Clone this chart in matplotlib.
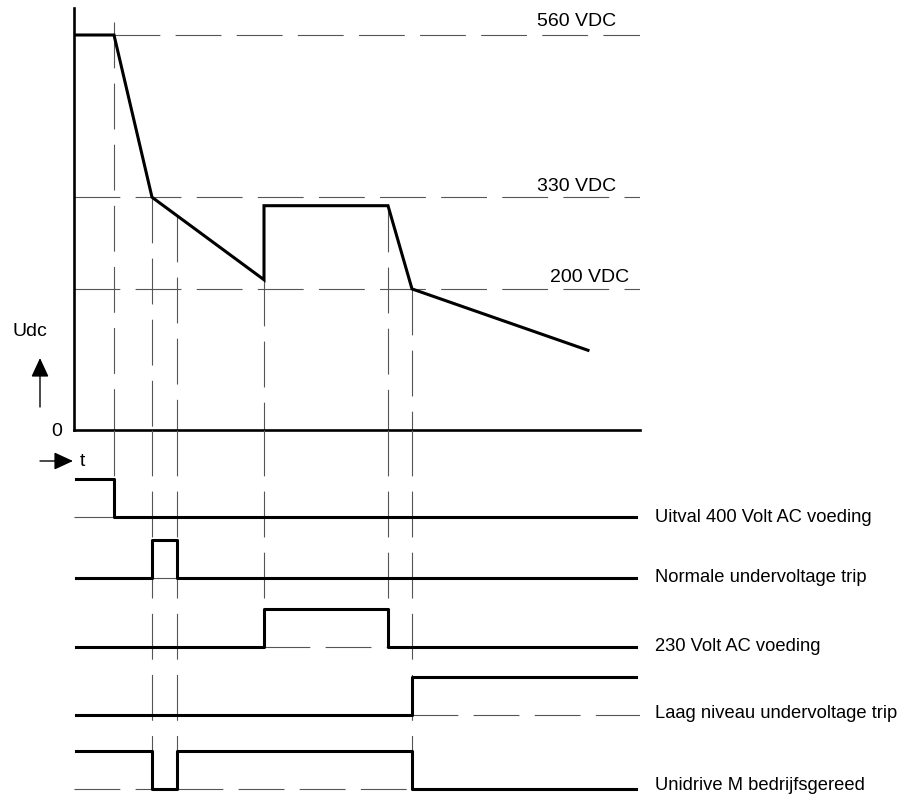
"""
Timing diagram: DC bus voltage (Udc) and control signals during a mains failure
"""
import numpy as np
import matplotlib
matplotlib.use("Agg")
import matplotlib.pyplot as plt

plt.rcParams['font.family'] = ['Liberation Sans', 'DejaVu Sans']
plt.rcParams['lines.scale_dashes'] = False

# Udc curve (time in arbitrary units, voltage in VDC)
t_udc = [0, 40, 78, 190, 190, 314, 338, 514]
u_udc = [560, 560, 330, 213, 318, 318, 200, 113]

ref_levels = [560, 330, 200]
ref_labels = ['560 VDC', '330 VDC', '200 VDC']
ref_start = [40, 0, 0]

# event times where the dashed guides are drawn
guide_times = [40, 78, 103, 190, 314, 338]

# logic signals (state held from each time to the next)
signal_names = [
    'Uitval 400 Volt AC voeding',
    'Normale undervoltage trip',
    '230 Volt AC voeding',
    'Laag niveau undervoltage trip',
    'Unidrive M bedrijfsgereed',
]
signal_times = [
    [2, 40, 562],
    [2, 78, 103, 562],
    [2, 190, 314, 562],
    [2, 338, 562],
    [2, 78, 103, 338, 562],
]
signal_states = [
    [1, 0],
    [0, 1, 0],
    [0, 1, 0],
    [0, 1],
    [1, 0, 1, 0],
]

# layout (pixels in the 900x794 picture)
W, H = 900, 794
x0, x1 = 74, 640
y_zero, y_top = 430, 8
row_base = [517, 578, 647, 715, 789]
label_drop = [5, 4, 4, 3, 1]
row_amp = 37.5
guide_end = [479, 789, 789, 609, 609, 789]
DASH = (0, (33, 11))
THICK = 2.2
THIN = 0.8
GREY = '#555555'
FS = 14
FS_LABEL = 13.2

fig = plt.figure(figsize=(W / 100, H / 100), dpi=100)

# --- Udc panel ---
ax_u = fig.add_axes([x0 / W, (H - y_zero) / H, (x1 - x0) / W, (y_zero - y_top) / H])
volt_per_px = 560 / (y_zero - 35)
ax_u.set_xlim(0, x1 - x0)
ax_u.set_ylim(0, (y_zero - y_top) * volt_per_px)
for side in ['top', 'right']:
    ax_u.spines[side].set_visible(False)
for side in ['left', 'bottom']:
    ax_u.spines[side].set_linewidth(1.9)
ax_u.set_xticks([])
ax_u.set_yticks([])
ax_u.patch.set_alpha(0)

offsets = [9.5, 8, 8]
label_x = [463, 463, 476]
for lvl, lab, ts, off, lx in zip(ref_levels, ref_labels, ref_start, offsets, label_x):
    ax_u.plot([ts, x1 - x0], [lvl, lvl], color=GREY, lw=THIN, ls=DASH)
    ax_u.annotate(lab, xy=(lx, lvl), xytext=(0, off), textcoords='offset points',
                  ha='left', va='center', fontsize=FS)

ax_u.plot(t_udc, u_udc, color='black', lw=THICK, solid_joinstyle='miter', zorder=5)

# guides inside the Udc panel, starting on the curve
for i, tg in enumerate(guide_times):
    if i == 0:
        top = 578
    elif tg <= 190:
        top = np.interp(tg, t_udc[:4], u_udc[:4])
    else:
        top = np.interp(tg, t_udc[4:], u_udc[4:])
    ax_u.plot([tg, tg], [top, 0], color=GREY, lw=THIN, ls=DASH)

# --- signal panel ---
ax_s = fig.add_axes([x0 / W, 0, (x1 - x0) / W, (H - y_zero) / H])
ax_s.set_xlim(0, x1 - x0)
ax_s.set_ylim(H, y_zero)
ax_s.axis('off')
ax_s.patch.set_alpha(0)

for tg, yend in zip(guide_times, guide_end):
    ax_s.plot([tg, tg], [y_zero, yend], color=GREY, lw=THIN, ls=DASH)

for name, ts, st, base, drop in zip(signal_names, signal_times, signal_states, row_base, label_drop):
    ys = [base - s * row_amp for s in st + [st[-1]]]
    ax_s.step(ts, ys, where='post', color='black', lw=THICK, zorder=5)
    # thin baseline under the high parts
    for a, b, s in zip(ts[:-1], ts[1:], st):
        if s == 1:
            lo = 0 if a == 2 else a
            hi = x1 - x0 if b == 562 and a != 2 else b
            ax_s.plot([lo, hi], [base, base], color=GREY, lw=THIN, ls=DASH)
    ax_s.text(581, base + drop, name, ha='left', va='baseline', fontsize=FS_LABEL)

# axis annotations
def fx(px):
    return px / W

def fy(py):
    return 1 - py / H

fig.text(fx(12), fy(332), 'Udc', ha='left', va='center', fontsize=FS)
fig.text(fx(57), fy(431), '0', ha='center', va='center', fontsize=FS)
fig.text(fx(80), fy(461), 't', ha='left', va='center', fontsize=FS)
arrow = dict(arrowstyle='-|>,head_length=0.65,head_width=0.3', lw=1, color='black',
             mutation_scale=18, shrinkA=0, shrinkB=0)
ax_u.annotate('', xy=(fx(40), fy(358)), xytext=(fx(40), fy(407)),
              xycoords='figure fraction', textcoords='figure fraction', arrowprops=arrow)
ax_u.annotate('', xy=(fx(73), fy(461)), xytext=(fx(40), fy(461)),
              xycoords='figure fraction', textcoords='figure fraction', arrowprops=arrow)

fig.savefig('out.png', dpi=100, facecolor='white')
